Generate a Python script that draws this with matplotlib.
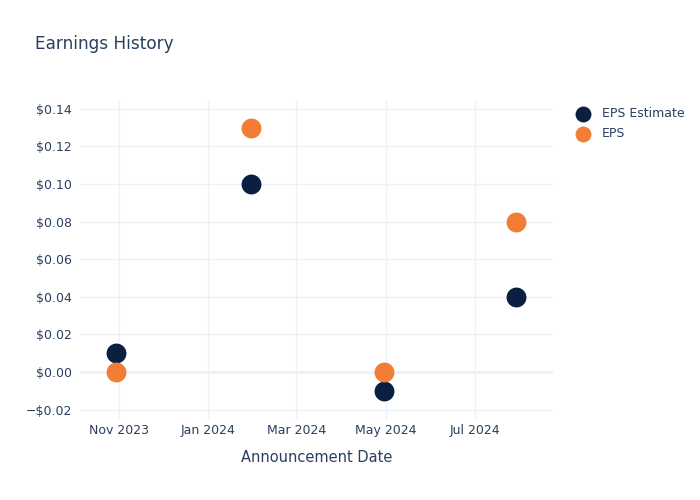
import matplotlib
matplotlib.use("Agg")
import matplotlib.pyplot as plt
from matplotlib.ticker import FuncFormatter
import datetime as dt

dates = ["2023-10-30", "2024-01-30", "2024-04-30", "2024-07-29"]
eps_estimate = [0.01, 0.10, -0.01, 0.04]
eps_actual = [0.00, 0.13, 0.00, 0.08]
tick_dates = ["2023-11-01", "2024-01-01", "2024-03-01", "2024-05-01", "2024-07-01"]
tick_labels = ["Nov 2023", "Jan 2024", "Mar 2024", "May 2024", "Jul 2024"]
y_ticks = [-0.02, 0.0, 0.02, 0.04, 0.06, 0.08, 0.10, 0.12, 0.14]

NAVY = "#0b1f41"
ORANGE = "#f47d35"
TEXT = "#2a3f5f"
GRID = "#edf1f8"

plt.rcParams['font.family'] = ['DejaVu Sans']

fig = plt.figure(figsize=(7, 5), dpi=100)
ax = fig.add_axes([80/700, 80/500, (553-80)/700, (420-100)/500])

x = [dt.datetime.strptime(d, "%Y-%m-%d") for d in dates]
ax.scatter(x, eps_estimate, s=205, color=NAVY, zorder=3, label="EPS Estimate", linewidths=0)
ax.scatter(x, eps_actual, s=205, color=ORANGE, zorder=4, label="EPS", linewidths=0)

ax.set_xlim(dt.datetime(2023, 10, 5, 12), dt.datetime(2024, 8, 23))
ax.set_ylim(-0.0255, 0.1447)

xt = [dt.datetime.strptime(d, "%Y-%m-%d") for d in tick_dates]
ax.set_xticks(xt)
ax.set_xticklabels(tick_labels)
ax.set_yticks(y_ticks)
def fmt(v, pos):
    s = "$%.2f" % abs(v)
    return ("\u2212" + s) if v < -1e-9 else s
ax.yaxis.set_major_formatter(FuncFormatter(fmt))

ax.grid(True, color=GRID, linewidth=1, zorder=0)
ax.axhline(0, color=GRID, linewidth=2, zorder=1)
ax.set_axisbelow(True)
for sp in ax.spines.values():
    sp.set_visible(False)
ax.tick_params(axis='both', length=0, colors=TEXT, labelsize=9)
ax.tick_params(axis='x', pad=3)
ax.tick_params(axis='y', pad=6)

ax.set_xlabel("Announcement Date", color=TEXT, fontsize=10.5, labelpad=9)

fig.text(35/700, 1 - 44/500, "Earnings History", color=TEXT, fontsize=12.2, va='center', ha='left')

leg = ax.legend(loc='upper left', bbox_to_anchor=(565/700, 1 - 102/500), bbox_transform=fig.transFigure,
                frameon=False, fontsize=9, labelcolor=TEXT, handletextpad=0.55, labelspacing=0.55,
                markerscale=0.8, borderaxespad=0)

fig.savefig("out.png", dpi=100)
